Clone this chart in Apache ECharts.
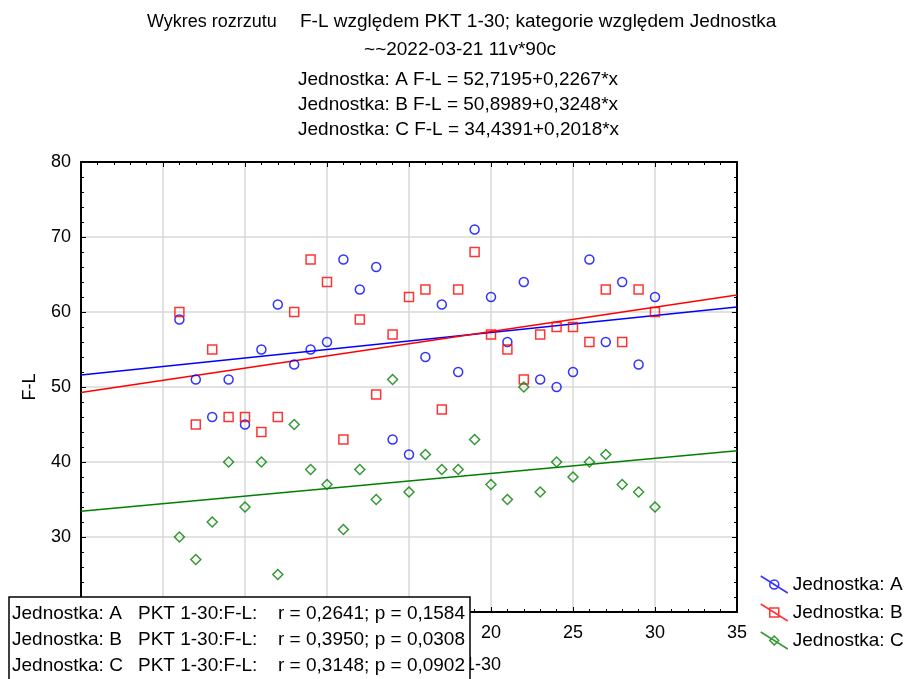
<!DOCTYPE html>
<html>
<head>
<meta charset="utf-8">
<title>Wykres rozrzutu F-L względem PKT 1-30</title>
<script src="https://cdn.jsdelivr.net/npm/echarts@6/dist/echarts.min.js"></script>
<style>
	html, body { margin: 0; padding: 0; background: #fff; }
	#chart { width: 904px; height: 679px; }
</style>
</head>
<body>
<div id="chart"></div>
<script>
// PKT 1-30 (oś X)
const pkt = [1, 2, 3, 4, 5, 6, 7, 8, 9, 10, 11, 12, 13, 14, 15, 16, 17, 18, 19, 20, 21, 22, 23, 24, 25, 26, 27, 28, 29, 30];
// F-L dla każdej jednostki
const flA = [59, 51, 46, 51, 45, 55, 61, 53, 55, 56, 67, 63, 66, 43, 41, 54, 61, 52, 71, 62, 56, 64, 51, 50, 52, 67, 56, 64, 53, 62];
const flB = [60, 45, 55, 46, 46, 44, 46, 60, 67, 64, 43, 59, 49, 57, 62, 63, 47, 63, 68, 57, 55, 51, 57, 58, 58, 56, 63, 56, 63, 60];
const flC = [30, 27, 32, 40, 34, 40, 25, 45, 39, 37, 31, 39, 35, 51, 36, 41, 39, 39, 43, 37, 35, 50, 36, 40, 38, 40, 41, 37, 36, 34];

const groups = ['A', 'B', 'C'];
const intercepts = [52.7195, 50.8989, 34.4391];
const slopes = [0.2267, 0.3248, 0.2018];
const rValues = ['0,2641', '0,3950', '0,3148'];
const pValues = ['0,1584', '0,0308', '0,0902'];

const xTicks = { min: -5, max: 35, interval: 5 };
const yTicks = { min: 20, max: 80, interval: 10 };

const colors = ['#0000ff', '#ff0000', '#008000'];
const symbols = ['circle', 'rect', 'diamond'];
const symbolSizes = [9, 9, 10];
const legendIcons = [
	'path://M0,0L27,17M18,8.5A4.5,4.5,0,1,1,9,8.5A4.5,4.5,0,1,1,18,8.5',
	'path://M0,0L27,17M9,4L18,4L18,13L9,13Z',
	'path://M0,0L27,17M13.5,4L18,8.5L13.5,13L9,8.5Z'
];

const FONT = '"Liberation Sans", Arial, Helvetica, sans-serif';
const fmt = v => String(v).replace('.', ',');

let chart = echarts.init(document.getElementById('chart'), null, { renderer: 'canvas' });

let allY = [flA, flB, flC];
let series = [];
groups.forEach((g, i) => {
	let name = 'Jednostka: ' + g;
	series.push({
		name: name,
		type: 'scatter',
		symbol: symbols[i],
		symbolSize: symbolSizes[i],
		z: 3,
		itemStyle: { color: 'transparent', borderColor: colors[i], borderWidth: 1.5 },
		data: pkt.map((x, k) => [x, allY[i][k]])
	});
	// prosta regresji na całym zakresie osi X
	series.push({
		name: name,
		type: 'line',
		silent: true,
		symbol: 'none',
		z: 2,
		lineStyle: { color: colors[i], width: 1.5 },
		data: [
			[xTicks.min, intercepts[i] + slopes[i] * xTicks.min],
			[xTicks.max, intercepts[i] + slopes[i] * xTicks.max]
		]
	});
});

// osie z tickami do środka (dolna/lewa z opisami, górna/prawa tylko ticki)
let tickStyle = { show: true, inside: true, length: 5, lineStyle: { color: '#000', width: 1 } };
let minorStyle = { show: true, splitNumber: 5, length: 3, lineStyle: { color: '#000', width: 1 } };
let axisLine = { show: true, onZero: false, lineStyle: { color: '#000', width: 2 } };

let graphic = [];
// tytuł
graphic.push({ type: 'text', x: 147, y: 22, style: { text: 'Wykres rozrzutu', font: '18px ' + FONT, fill: '#000', textAlign: 'left', textVerticalAlign: 'middle' } });
graphic.push({ type: 'text', x: 300, y: 22, style: { text: 'F-L względem PKT 1-30; kategorie względem Jednostka', font: '19px ' + FONT, fill: '#000', textAlign: 'left', textVerticalAlign: 'middle' } });
graphic.push({ type: 'text', x: 460, y: 50, style: { text: '~~2022-03-21 11v*90c', font: '19px ' + FONT, fill: '#000', textAlign: 'center', textVerticalAlign: 'middle' } });
groups.forEach((g, i) => {
	graphic.push({
		type: 'text', x: 298, y: 80 + i * 25,
		style: {
			text: 'Jednostka: ' + g + ' F-L = ' + fmt(intercepts[i]) + '+' + fmt(slopes[i]) + '*x',
			font: '19px ' + FONT, fill: '#000', textAlign: 'left', textVerticalAlign: 'middle'
		}
	});
});
// nazwa osi X (częściowo zasłonięta ramką statystyk)
graphic.push({ type: 'text', x: 501, y: 665, z: 5, style: { text: 'PKT 1-30', font: '18px ' + FONT, fill: '#000', textAlign: 'right', textVerticalAlign: 'middle' } });
// ramka z korelacjami
graphic.push({ type: 'rect', z: 50, shape: { x: 9, y: 597, width: 461, height: 95 }, style: { fill: '#fff', stroke: '#000', lineWidth: 1.5 } });
groups.forEach((g, i) => {
	let y = 614 + i * 26;
	graphic.push({ type: 'text', z: 51, x: 12, y: y, style: { text: 'Jednostka: ' + g, font: '19px ' + FONT, fill: '#000', textVerticalAlign: 'middle' } });
	graphic.push({ type: 'text', z: 51, x: 138, y: y, style: { text: 'PKT 1-30:F-L:', font: '19px ' + FONT, fill: '#000', textVerticalAlign: 'middle' } });
	graphic.push({ type: 'text', z: 51, x: 465, y: y, style: { text: 'r = ' + rValues[i] + '; p = ' + pValues[i], font: '19px ' + FONT, fill: '#000', textAlign: 'right', textVerticalAlign: 'middle' } });
});

let option = {
	animation: false,
	backgroundColor: '#fff',
	textStyle: { fontFamily: FONT, color: '#000' },
	grid: { left: 81, top: 162, right: 167, bottom: 67, containLabel: false },
	legend: {
		orient: 'vertical',
		left: 760,
		top: 575,
		padding: 0,
		itemWidth: 27,
		itemHeight: 17,
		itemGap: 9,
		itemStyle: { borderWidth: 1.5 },
		textStyle: { fontSize: 19, color: '#000', fontFamily: FONT },
		data: groups.map((g, i) => ({ name: 'Jednostka: ' + g, icon: legendIcons[i] }))
	},
	xAxis: [
		{
			type: 'value', position: 'bottom',
			min: xTicks.min, max: xTicks.max, interval: xTicks.interval,
			axisLine: axisLine, axisTick: tickStyle, minorTick: minorStyle,
			axisLabel: { fontSize: 18, color: '#000', margin: 12 },
			splitLine: { show: true, lineStyle: { color: '#d9d9d9', width: 1.5 } }
		},
		{
			type: 'value', position: 'top',
			min: xTicks.min, max: xTicks.max, interval: xTicks.interval,
			axisLine: axisLine, axisTick: tickStyle, minorTick: minorStyle,
			axisLabel: { show: false }, splitLine: { show: false }
		}
	],
	yAxis: [
		{
			type: 'value', position: 'left',
			min: yTicks.min, max: yTicks.max, interval: yTicks.interval,
			name: 'F-L', nameLocation: 'middle', nameGap: 42,
			nameTextStyle: { fontSize: 18, color: '#000' },
			axisLine: axisLine, axisTick: tickStyle, minorTick: minorStyle,
			axisLabel: { fontSize: 18, color: '#000', margin: 10 },
			splitLine: { show: true, lineStyle: { color: '#d9d9d9', width: 1.5 } }
		},
		{
			type: 'value', position: 'right',
			min: yTicks.min, max: yTicks.max, interval: yTicks.interval,
			axisLine: axisLine, axisTick: tickStyle, minorTick: minorStyle,
			axisLabel: { show: false }, splitLine: { show: false }
		}
	],
	series: series,
	graphic: graphic
};

chart.setOption(option);
</script>
</body>
</html>
